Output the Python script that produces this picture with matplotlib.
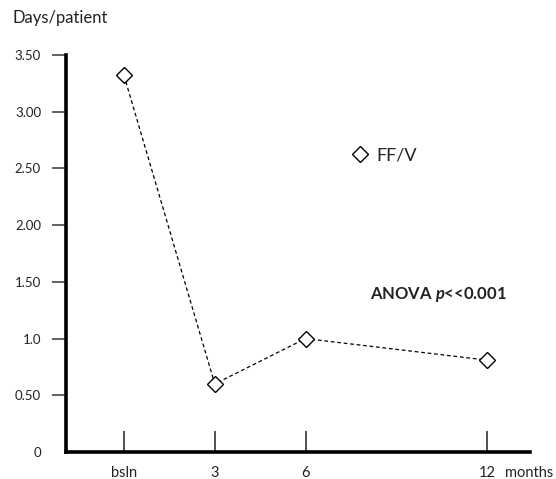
import matplotlib
matplotlib.use("Agg")
import matplotlib.pyplot as plt
from matplotlib.lines import Line2D

# Data
months = [0, 3, 6, 12]
month_labels = ["bsln", "3", "6", "12"]
days_per_patient = [3.32, 0.60, 1.00, 0.81]
ytick_vals = [0, 0.5, 1.0, 1.5, 2.0, 2.5, 3.0, 3.5]
ytick_labels = ["0", "0.50", "1.0", "1.50", "2.00", "2.50", "3.00", "3.50"]
series_name = "FF/V"

plt.rcParams['font.family'] = ['Lato', 'DejaVu Sans']
plt.rcParams['mathtext.fontset'] = 'custom'
plt.rcParams['mathtext.bfit'] = 'Lato:italic:bold'

W, H = 556, 479
fig = plt.figure(figsize=(W / 100, H / 100), dpi=100)
ax = fig.add_axes([66 / W, (H - 452) / H, (530 - 66) / W, (452 - 55) / H])

ax.plot(months, days_per_patient, color='black', lw=0.9, ls=(0, (3, 2.2)),
        marker='D', markersize=8, markerfacecolor='white',
        markeredgecolor='black', markeredgewidth=1.0, zorder=3)

ax.set_xlim(-1.917, 13.42)
ax.set_ylim(0, 3.5)

for s in ['top', 'right']:
    ax.spines[s].set_visible(False)
for s in ['left', 'bottom']:
    ax.spines[s].set_linewidth(2.6)
    ax.spines[s].set_color('black')

ax.set_yticks(ytick_vals)
ax.set_yticklabels(ytick_labels, fontsize=9.5, color='#222222')
ax.tick_params(axis='y', direction='out', length=10, width=1.3, color='#555555', pad=8)
ax.yaxis.get_major_ticks()[0].tick1line.set_visible(False)
ax.yaxis.get_major_ticks()[-1].tick1line.set_color('black')

ax.set_xticks(months)
ax.set_xticklabels(month_labels, fontsize=10.5, color='#222222')
ax.tick_params(axis='x', direction='in', length=15, width=1.2, color='#333333', pad=10)

ax.annotate('months', xy=(months[-1], 0), xycoords='data',
            xytext=(13, -10), textcoords='offset points',
            ha='left', va='top', fontsize=10.5, color='#222222',
            annotation_clip=False)

fig.text(12 / W, 1 - 18 / H, 'Days/patient', fontsize=12, color='#222222',
         ha='left', va='center')

handle = Line2D([], [], ls='none', marker='D', markersize=8,
                markerfacecolor='white', markeredgecolor='black', markeredgewidth=1.0)
ax.legend(handles=[handle], labels=[series_name], loc='center left',
          bbox_to_anchor=(333 / W, 1 - 155 / H), bbox_transform=fig.transFigure,
          frameon=False, fontsize=13, handletextpad=0.3, handlelength=1.2,
          labelcolor='#222222')

fig.text(370 / W, 1 - 294 / H, r'ANOVA $\mathbfit{p}$<<0.001', fontsize=12,
         fontweight='bold', color='#222222', ha='left', va='center')

fig.savefig('out.png', dpi=100)
